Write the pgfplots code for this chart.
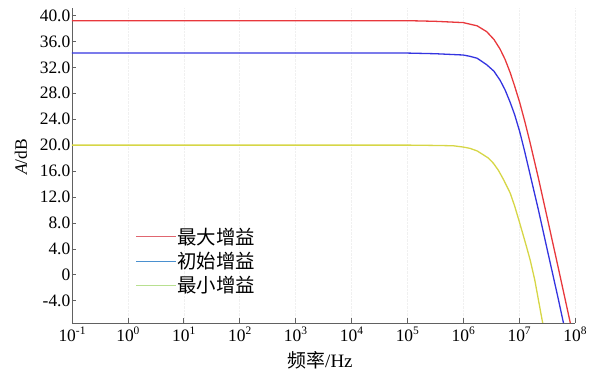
\documentclass[border=0pt]{standalone}
\usepackage{fontspec}
\setmainfont{Liberation Serif}
\newfontfamily\cjk{Noto Sans CJK SC}
\usepackage{pgfplots}
\pgfplotsset{compat=1.18}

% curve colours
\definecolor{cRed}{HTML}{E8383C}
\definecolor{cBlue}{HTML}{3434E0}
\definecolor{cYellow}{HTML}{D6D646}
% legend swatch colours
\definecolor{lRed}{HTML}{E06670}
\definecolor{lBlue}{HTML}{4A90CF}
\definecolor{lGreen}{HTML}{B8E090}

\newcommand{\pw}[1]{10\raisebox{0.42em}{\fontsize{11.5}{11.5}\selectfont #1}}

\begin{document}
\begin{tikzpicture}
\begin{axis}[
  scale only axis,
  width=503bp, height=315bp,
  xmode=log,
  xmin=0.1, xmax=1e8,
  ymin=-7.4, ymax=41.2,
  axis lines=left,
  axis line style={black!62, -},
  tick align=inside,
  major tick length=4.5bp,
  xminorticks=false, yminorticks=false,
  tick style={black!62, line width=0.6bp},
  xmajorgrids,
  major grid style={black!6, densely dotted},
  xtick={1e-1,1e0,1e1,1e2,1e3,1e4,1e5,1e6,1e7,1e8},
  xticklabels={\pw{-1},\pw{0},\pw{1},\pw{2},\pw{3},\pw{4},\pw{5},\pw{6},\pw{7},\pw{8}},
  ytick={-4,0,4,8,12,16,20,24,28,32,36,40},
  yticklabels={-4.0,0,4.0,8.0,12.0,16.0,20.0,24.0,28.0,32.0,36.0,40.0},
  ticklabel style={font=\fontsize{17.5}{17.5}\selectfont},
  yticklabel style={inner xsep=1.5bp},
  xticklabel style={inner ysep=4bp},
  every axis y label/.style={at={(rel axis cs:0,0.526)}, xshift=-51bp, rotate=90, anchor=center},
  every axis x label/.style={at={(rel axis cs:0.493,0)}, yshift=-38bp, anchor=center},
  ylabel={\fontsize{17.5}{17.5}\selectfont \textit{A}/dB},
  xlabel={\fontsize{19}{19}\selectfont {\cjk 频率}/Hz},
  legend style={at={(rel axis cs:0.126,0.305)}, anchor=north west, draw=none, fill=none,
    inner sep=0pt, row sep=4.4bp, font=\cjk\fontsize{19.5}{22}\selectfont,
    nodes={inner sep=1bp}},
  legend cell align=left,
]
\addlegendimage{legend image code/.code={\draw[draw=lRed, line width=0.9bp] (0bp,0bp) -- (40bp,0bp);}}
\addlegendentry{最大增益}
\addlegendimage{legend image code/.code={\draw[draw=lBlue, line width=0.9bp] (0bp,0bp) -- (40bp,0bp);}}
\addlegendentry{初始增益}
\addlegendimage{legend image code/.code={\draw[draw=lGreen, line width=0.9bp] (0bp,0bp) -- (40bp,0bp);}}
\addlegendentry{最小增益}

% maximum gain
\addplot[cRed, line width=1.3bp, forget plot] coordinates {
  (0.1,39.2) (1e5,39.2) (3.162e5,39.1) (1e6,38.9) (1.778e6,38.4) (2.630e6,37.5)
  (3.548e6,36.3) (4.571e6,34.8) (5.623e6,33.2) (6.918e6,31.2) (8.318e6,29.1)
  (1.023e7,26.6) (1.259e7,23.7) (1.549e7,20.6) (2.188e7,15.1) (3.162e7,8.9)
  (5.012e7,1.1) (8.128e7,-7.2) (8.913e7,-8.8)
};
% initial gain
\addplot[cBlue, line width=1.3bp, forget plot] coordinates {
  (0.1,34.2) (1e5,34.2) (3.162e5,34.1) (1e6,33.9) (1.318e6,33.7) (1.778e6,33.4)
  (2.630e6,32.4) (3.548e6,31.4) (4.571e6,30.0) (5.623e6,28.5) (6.918e6,26.6)
  (8.318e6,24.7) (1.023e7,22.1) (1.259e7,19.0) (1.549e7,15.7) (2.188e7,10.2)
  (3.162e7,4.0) (5.012e7,-3.7) (6.166e7,-7.3) (6.607e7,-8.5)
};
% minimum gain
\addplot[cYellow, line width=1.3bp, forget plot] coordinates {
  (0.1,20.0) (1e5,20.0) (3.162e5,19.95) (6.607e5,19.9) (1e6,19.7) (1.318e6,19.5)
  (1.778e6,19.1) (2.291e6,18.5) (2.818e6,18.0) (3.467e6,17.2) (4.266e6,16.1)
  (5.248e6,14.7) (6.918e6,12.6) (8.318e6,10.6) (1.023e7,8.0) (1.349e7,4.4)
  (1.585e7,2.2) (1.905e7,-0.8) (2.570e7,-6.9) (2.692e7,-7.8)
};
\end{axis}
\pgfresetboundingbox
\path[use as bounding box] ([xshift=-72bp,yshift=-51bp]current axis.south west)
  rectangle ([xshift=28bp,yshift=7.7bp]current axis.north east);
\end{tikzpicture}
\end{document}
